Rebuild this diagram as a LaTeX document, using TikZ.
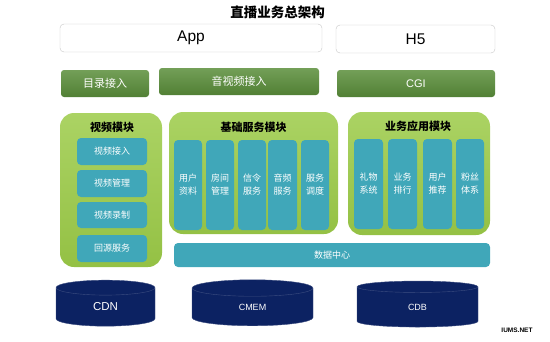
\documentclass[tikz,border=0pt]{standalone}
\usepackage{fontspec}
\setmainfont{Noto Sans CJK SC}
\newfontfamily\latin{Liberation Sans}
\usetikzlibrary{shapes.geometric}
\definecolor{btngreen}{HTML}{5A8E3A}
\definecolor{modgreen}{HTML}{9CCB48}
\definecolor{cellteal}{HTML}{40A7B9}
\definecolor{dbnavy}{HTML}{0C2262}
\tikzset{
  client/.style={rectangle, rounded corners=4pt, draw=black!22, fill=white,
                 minimum width=#1, minimum height=28, inner sep=0pt,
                 font=\latin\fontsize{15.5}{15.5}\selectfont},
  gbtn/.style={rectangle, rounded corners=3pt, top color=btngreen!85!white,
               bottom color=btngreen!90!black, minimum width=#1, minimum height=27,
               inner sep=0pt, text=white, font=\fontsize{11}{11}\selectfont},
  modbox/.style={rectangle, rounded corners=14pt, top color=modgreen!85!white,
                 bottom color=modgreen!95!black, inner sep=0pt},
  modtitle/.style={font=\bfseries\fontsize{11}{11}\selectfont, text=black},
  cell/.style={rectangle, rounded corners=4pt, fill=cellteal, inner sep=0pt,
               text=white, align=center, font=\fontsize{9}{13}\selectfont},
  db/.style={cylinder, shape border rotate=90, aspect=0.6, fill=dbnavy,
             draw=dbnavy!80!white, inner sep=0pt, minimum height=46,
             minimum width=#1, text=white, font=\latin\fontsize{9}{9}\selectfont},
}
\begin{document}
\begin{tikzpicture}[x=1pt, y=-1pt]
  \useasboundingbox (0,0) rectangle (550,341);
  \node[font=\bfseries\fontsize{13.5}{13.5}\selectfont] (title) at (277.5,12) {直播业务总架构};

  % clients
  \node[client=262] (app) at (191,38) {App};
  \node[client=159] (h5) at (415.5,39) {H5};

  % access layer
  \node[gbtn=88] (mulu) at (105,83.5) {目录接入};
  \node[gbtn=160] (avin) at (239,81.5) {音视频接入};
  \node[gbtn=158, font=\latin\fontsize{11}{11}\selectfont] (cgi) at (416,83.5) {CGI};

  % modules
  \node[modbox, minimum width=102, minimum height=154] (vmod) at (111,190) {};
  \node[modbox, minimum width=169, minimum height=122] (bmod) at (253.5,173) {};
  \node[modbox, minimum width=142, minimum height=123] (amod) at (419,173.5) {};
  \node[modtitle] (vmodt) at (112,127) {视频模块};
  \node[modtitle] (bmodt) at (253.5,127) {基础服务模块};
  \node[modtitle] (amodt) at (418,126) {业务应用模块};

  \node[cell, minimum width=70, minimum height=27] (vin) at (112,151.5) {视频接入};
  \node[cell, minimum width=70, minimum height=27] (vmgr) at (112,183.5) {视频管理};
  \node[cell, minimum width=70, minimum height=26] (vrec) at (112,215) {视频录制};
  \node[cell, minimum width=70, minimum height=27] (vsrc) at (112,248.5) {回源服务};

  \node[cell, minimum width=28, minimum height=90] (user) at (188,185) {用户\\资料};
  \node[cell, minimum width=28, minimum height=90] (room) at (220,185) {房间\\管理};
  \node[cell, minimum width=28, minimum height=90] (sig) at (252,185) {信令\\服务};
  \node[cell, minimum width=29, minimum height=90] (audio) at (282.5,185) {音频\\服务};
  \node[cell, minimum width=28, minimum height=90] (sched) at (315,185) {服务\\调度};

  \node[cell, minimum width=29, minimum height=90] (gift) at (368.5,184) {礼物\\系统};
  \node[cell, minimum width=29, minimum height=90] (rank) at (402.5,184) {业务\\排行};
  \node[cell, minimum width=29, minimum height=90] (rec) at (437.5,184) {用户\\推荐};
  \node[cell, minimum width=28, minimum height=90] (fans) at (470,184) {粉丝\\体系};

  \node[cell, minimum width=316, minimum height=24] (data) at (332,255) {数据中心};

  % storage
  \node[db=99, font=\latin\fontsize{11.5}{11.5}\selectfont] (cdn) at (105.5,307) {CDN};
  \node[db=121] (cmem) at (252.5,307) {CMEM};
  \node[db=121] (cdb) at (417.5,307) {CDB};

  \node[font=\latin\bfseries\fontsize{6.5}{6.5}\selectfont] (mark) at (517,330) {IUMS.NET};
\end{tikzpicture}
\end{document}
